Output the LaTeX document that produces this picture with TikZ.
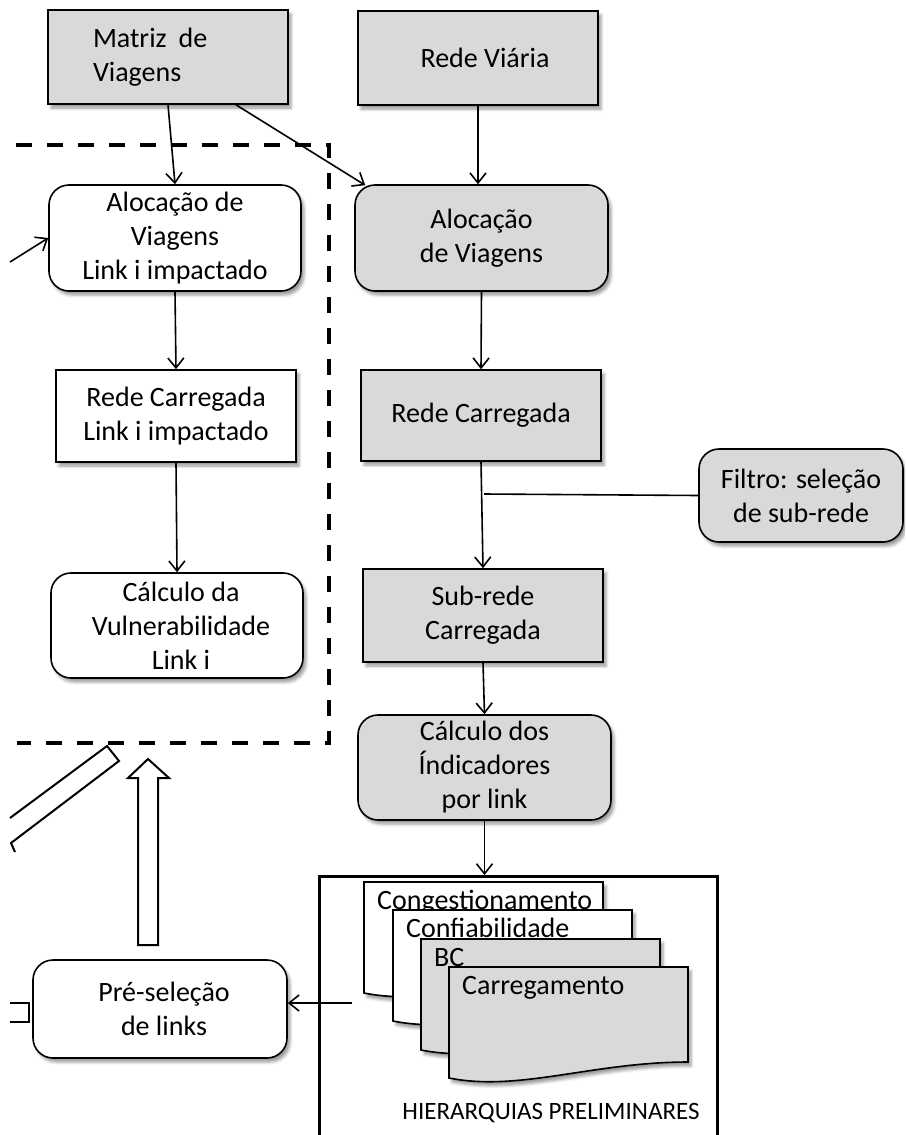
\documentclass[tikz,border=0pt]{standalone}
\usepackage{fontspec}
\setmainfont{Carlito}
\usetikzlibrary{arrows.meta,shadows.blur,calc}
\definecolor{boxgray}{RGB}{217,217,217}
\tikzset{
  shade3/.style={blur shadow={shadow xshift=3pt,shadow yshift=-4pt,shadow blur radius=3pt}},
  base/.style={draw, line width=1.6pt, font=\fontsize{28}{34}\selectfont,
    align=center, inner sep=0pt, shade3},
  sqbox/.style={base, rectangle},
  rbox/.style={base, rounded corners=20pt},
  grayfill/.style={fill=boxgray},
  whitefill/.style={fill=white},
  flow/.style={line width=1.6pt, -{Straight Barb[length=10pt,width=16pt]}},
  plain/.style={line width=1.6pt},
  docshape/.style={draw, line width=1.6pt, shade3},
  hollow/.style={draw, line width=2pt, fill=white, line join=miter},
}
\begin{document}
\begin{tikzpicture}[x=1pt,y=-1pt]
\useasboundingbox (0,0) rectangle (905,1135);
\clip (0,0) rectangle (905,1135);

% dashed frame around the per-link loop
\draw[line width=4pt, dash pattern=on 16pt off 15pt]
  (16,145) -- (329,145) -- (329,743) -- (17,743);

% main column
\node[sqbox, grayfill, minimum width=240pt, minimum height=94pt,
      text width=150pt, align=left] (matriz) at (168,57) {Matriz\hspace{12pt}de\\Viagens};
\node[sqbox, grayfill, minimum width=240pt, minimum height=94pt] (redeV) at (478,58) {\hspace*{14pt}Rede Viária};
\node[rbox, grayfill, minimum width=253pt, minimum height=106pt] (alocR) at (481.5,238) {Alocação\\de Viagens};
\node[sqbox, grayfill, minimum width=240pt, minimum height=91pt] (redeC) at (481,415.5) {Rede Carregada};
\node[rbox, grayfill, minimum width=204pt, minimum height=93pt] (filtro) at (801,495.5) {Filtro: seleção\\de sub-rede};
\node[sqbox, grayfill, minimum width=240pt, minimum height=93pt] (subrede) at (483,615.5) {Sub-rede\\Carregada};
\node[rbox, grayfill, minimum width=253pt, minimum height=105pt] (calcI) at (484.5,767.5) {Cálculo dos\\Índicadores\\por link};

% per-link column
\node[rbox, whitefill, minimum width=252pt, minimum height=106pt] (alocL) at (175,238) {Alocação de\\Viagens\\Link i impactado};
\node[sqbox, whitefill, minimum width=240pt, minimum height=92pt] (redeCL) at (176,416) {Rede Carregada\\Link i impactado};
\node[rbox, whitefill, minimum width=252pt, minimum height=105pt] (calcV) at (177,625.5) {\hspace*{8pt}Cálculo da\\\hspace*{8pt}Vulnerabilidade\\\hspace*{8pt}Link i};
\node[rbox, whitefill, minimum width=254pt, minimum height=98pt] (pre) at (160,1009) {\hspace*{8pt}Pré-seleção\\\hspace*{8pt}de links};

% preliminary hierarchies
\node[draw, line width=3pt, minimum width=398pt, minimum height=275pt,
      anchor=north west, inner sep=0pt] (hier) at (318,875) {};
\foreach \x/\y/\f/\t [count=\i] in
  {364/882/white/Congestionamento, 393/910/white/Confiabilidade,
   421/939/boxgray/BC, 449/967/boxgray/Carregamento}{
  \path[docshape, fill=\f] (\x,\y) -- ++(239,0) -- ++(0,95)
    .. controls ++(-95,0) and ++(70,14) .. ++(-239,16) -- cycle;
  \node[anchor=base west, inner sep=0pt, font=\fontsize{28}{34}\selectfont]
    (doc\i) at (\x+13,\y+27) {\t};
}
\node[anchor=base, inner sep=0pt, font=\fontsize{25}{30}\selectfont] (hiertxt) at (551,1119) {HIERARQUIAS PRELIMINARES};

% connectors
\draw[flow] (matriz.south) -- (alocL.north);
\draw[flow] ([xshift=68pt]matriz.south) -- ([shift={(11pt,-1pt)}]alocR.north west);
\draw[flow] (redeV.south) -- (redeV.south |- alocR.north);
\draw[flow] (alocR.south) -- (redeC.north);
\draw[flow] (redeC.south) -- (subrede.north);
\draw[flow] (subrede.south) -- (calcI.north);
\draw[flow] (calcI.south) -- (calcI.south |- hier.north);
\draw[flow] (alocL.south) -- (redeCL.north);
\draw[flow] (redeCL.south) -- (calcV.north);

\coordinate (entry) at (10,262);
\draw[flow] (entry) -- (alocL.west);

\coordinate (tap) at (484,494);
\draw[plain] (filtro.west) -- (tap);

\coordinate (hout) at (352,1003);
\draw[flow] (hout) -- (hout -| pre.east);

% hollow block arrows
\draw[hollow] (138,945) -- (138,778) -- (128,778) -- (148,759) -- (169,778)
  -- (158,778) -- (158,945) -- cycle;
\draw[line width=2pt, line join=miter] (10,818) -- (107,746) -- (119,761) -- (11,843) -- (15,852);

% bracket at the left edge
\draw[line width=2.5pt] (10,1003) -- (29,1003) -- (29,1022) -- (10,1022);
\end{tikzpicture}
\end{document}
